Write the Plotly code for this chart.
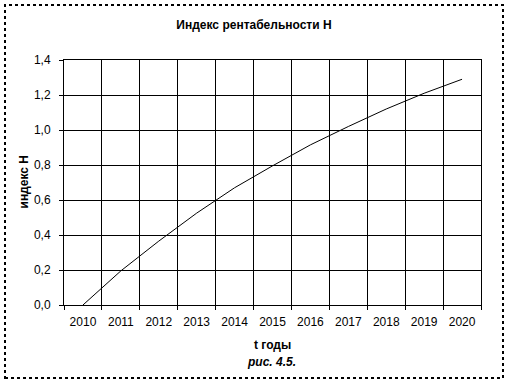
import plotly.graph_objects as go

years = ["2010", "2011", "2012", "2013", "2014", "2015", "2016", "2017", "2018", "2019", "2020"]
index_h = [0.0, 0.195, 0.365, 0.525, 0.67, 0.795, 0.915, 1.02, 1.12, 1.21, 1.29]

y_ticks = [0.0, 0.2, 0.4, 0.6, 0.8, 1.0, 1.2, 1.4]

W, H = 508, 385
L, R, T, B = 64, 27, 60, 80
pw, ph = W - L - R, H - T - B

def px_x(x):
    return (x - L) / pw

def px_y(y):
    return (H - B - y) / ph

font = "Liberation Sans, Arial, sans-serif"

fig = go.Figure()
fig.add_trace(go.Scatter(x=years, y=index_h, mode="lines",
                         line=dict(color="black", width=1), showlegend=False,
                         hoverinfo="skip"))

fig.update_layout(
    width=W, height=H,
    margin=dict(l=L, r=R, t=T, b=B, pad=0),
    paper_bgcolor="white", plot_bgcolor="white",
    separators=",.",
    font=dict(family=font, size=12, color="black"),
    title=dict(text="<b>Индекс рентабельности Н</b>", x=254 / W, xref="container",
               xanchor="center", y=1 - 25 / H, yref="container", yanchor="middle",
               font=dict(family=font, size=12, color="black")),
    xaxis=dict(type="category", range=[-0.5, len(years) - 0.5], tickson="boundaries",
               showgrid=True, gridcolor="black", gridwidth=1,
               showline=True, linecolor="black", linewidth=1, mirror=True,
               ticks="outside", ticklen=4, tickcolor="black", tickwidth=1,
               ticklabelstandoff=6,
               tickfont=dict(family=font, size=12, color="black"), fixedrange=True),
    yaxis=dict(range=[0, 1.4], tickvals=y_ticks, tickformat=".1f",
               showgrid=True, gridcolor="black", gridwidth=1, zeroline=False,
               showline=True, linecolor="black", linewidth=1, mirror=True,
               ticks="outside", ticklen=4, tickcolor="black", tickwidth=1,
               ticklabelstandoff=6,
               tickfont=dict(family=font, size=12, color="black"), fixedrange=True),
    annotations=[
        dict(text="<b>t годы</b>", xref="paper", yref="paper", x=0.5, y=px_y(345),
             xanchor="center", yanchor="middle", showarrow=False,
             font=dict(family=font, size=12, color="black")),
        dict(text="<b><i>рис. 4.5.</i></b>", xref="paper", yref="paper", x=px_x(271), y=px_y(362),
             xanchor="center", yanchor="middle", showarrow=False,
             font=dict(family=font, size=12, color="black")),
        dict(text="<b>индекс Н</b>", xref="paper", yref="paper", x=px_x(23), y=0.5,
             xanchor="center", yanchor="middle", showarrow=False, textangle=-90,
             font=dict(family=font, size=12, color="black")),
    ],
    shapes=[
        dict(type="rect", xref="paper", yref="paper",
             x0=px_x(5), x1=px_x(503), y0=px_y(378), y1=px_y(5),
             line=dict(color="black", width=2, dash="dot"), layer="above"),
    ],
)

fig.write_html("out.html")
